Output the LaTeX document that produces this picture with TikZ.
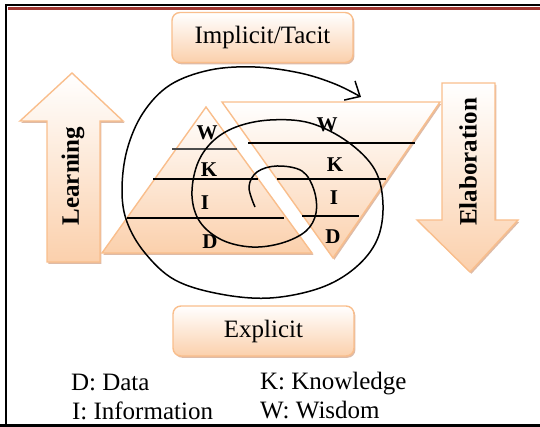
\documentclass[tikz,border=0pt]{standalone}
\usepackage{fontspec}
\setmainfont{Liberation Serif}
\usetikzlibrary{arrows.meta,shadows}
\definecolor{peachline}{RGB}{249,190,140}
\definecolor{peachfill}{RGB}{251,208,172}
\definecolor{peachshadow}{RGB}{190,120,80}
\definecolor{framered}{RGB}{160,55,50}
\tikzset{
  peachshade/.style={draw=peachline, line width=0.7pt, top color=white, bottom color=peachfill,
    drop shadow={shadow xshift=0.7pt, shadow yshift=-0.9pt, fill=peachshadow, opacity=0.5}},
  labelbox/.style={peachshade, rounded corners=4pt, minimum width=90.5pt, minimum height=25pt,
    font=\fontsize{12.5}{14}\selectfont},
  layer/.style={line width=0.6pt},
  letter/.style={font=\bfseries\fontsize{10.5}{12}\selectfont},
  legend/.style={anchor=base west, font=\fontsize{12.5}{14}\selectfont},
  arrowtext/.style={rotate=90, font=\bfseries\fontsize{12.5}{14}\selectfont},
}
\begin{document}
\begin{tikzpicture}[x=0.5pt, y=-0.5pt]
				\useasboundingbox (0, 0) rectangle (540, 427);

				%%the two boxes
				\node[labelbox] (tacit) at (262.5, 37.5) {Implicit/Tacit};
				\node[labelbox] (explicit) at (263.5, 331) {Explicit};

				%%learning arrow, up
				\path[peachshade] (47, 262) -- (47, 121) -- (20, 121) -- (72, 73)
					-- (123, 121) -- (100, 121) -- (100, 262) -- cycle;
				\node[arrowtext] (learning) at (73, 176) {Learning};

				%%elaboration arrow, down
				\path[peachshade] (442, 83) -- (495, 83) -- (495, 220) -- (518, 220)
					-- (470, 272) -- (417, 220) -- (442, 220) -- cycle;
				\node[arrowtext] (elaboration) at (468, 162) {Elaboration};

				%%pyramid
				\path[peachshade] (102, 253) -- (206, 107) -- (312, 253) -- cycle;
				\draw[layer, black!70] (172, 149) to (237, 149);
				\draw[layer] (153, 179) to (258, 179);
				\draw[layer] (127, 218) to (284, 218);
				\node[letter] (pw) at (207, 133) {W};
				\node[letter] (pk) at (209, 170) {K};
				\node[letter] (pi) at (205, 203) {I};
				\node[letter] (pd) at (210, 242) {D};

				%%inverted pyramid
				\path[peachshade] (222, 102) -- (440, 102) -- (333, 258) -- cycle;
				\draw[layer] (248, 143) to (415, 143);
				\draw[layer] (277, 179) to (386, 179);
				\draw[layer] (302, 216) to (359, 216);
				\node[letter] (iw) at (327, 125) {W};
				\node[letter] (ik) at (335, 165) {K};
				\node[letter] (ii) at (334, 198) {I};
				\node[letter] (id) at (333, 237) {D};

				%%spiral
				\draw[line width=0.75pt, -{Straight Barb[length=6pt, width=11pt]}]
					plot[smooth, tension=0.6] coordinates {(255, 207) (249, 187) (257, 172)
					(277, 166) (302, 171) (314, 190) (316, 213) (306, 231) (282, 243)
					(252, 247) (222, 240) (200, 222) (192, 196) (197, 165) (212, 142)
					(236, 127) (270, 120) (310, 123) (348, 142) (375, 170) (383, 205)
					(377, 240) (355, 268) (320, 288) (270, 298) (220, 294) (175, 280)
					(145, 253) (127, 222) (122, 190) (127, 150) (143, 113) (170, 85)
					(210, 70) (255, 67) (300, 73) (335, 84) (361, 97)};

				%%legend
				\node[legend] (data) at (64, 390) {D: Data};
				\node[legend] (know) at (253, 389) {K: Knowledge};
				\node[legend] (info) at (65, 419) {I: Information};
				\node[legend] (wis) at (253, 418) {W: Wisdom};

				%%frame
				\draw[line width=1.2pt] (6, 427) to (6, 5) to (540, 5);
				\draw[line width=1.5pt, framered] (7.5, 8.5) to (540, 8.5);
				\draw[line width=1.5pt] (0, 425.5) to (540, 425.5);
\end{tikzpicture}
\end{document}
